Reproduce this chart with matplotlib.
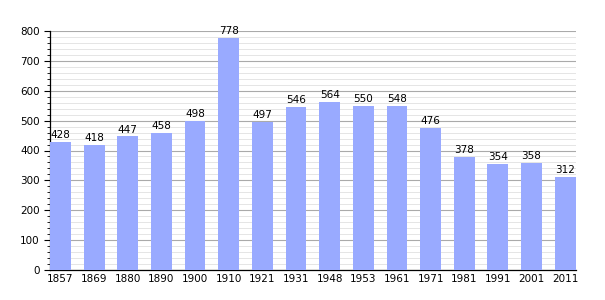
import numpy as np
import matplotlib.pyplot as plt
from matplotlib.ticker import MultipleLocator

years = ["1857", "1869", "1880", "1890", "1900", "1910", "1921", "1931",
         "1948", "1953", "1961", "1971", "1981", "1991", "2001", "2011"]
population = [428, 418, 447, 458, 498, 778, 497, 546,
              564, 550, 548, 476, 378, 354, 358, 312]

fig = plt.figure(figsize=(6.05, 3.0), dpi=100)
ax = fig.add_axes([50 / 605, 30 / 300, 526 / 605, 239 / 300])

x = np.arange(len(years))
ax.bar(x, population, width=0.62, color="#99aaff", zorder=3)

for xi, v in zip(x, population):
    ax.text(xi, v + 6, str(v), ha="center", va="bottom", fontsize=7.5, zorder=4)

ax.set_xlim(-0.31, 15.32)
ax.set_ylim(0, 800)
ax.set_xticks(x)
ax.set_xticklabels(years, fontsize=7.5)
ax.yaxis.set_major_locator(MultipleLocator(100))
ax.yaxis.set_minor_locator(MultipleLocator(20))
ax.tick_params(axis="y", labelsize=7.5, length=4, width=0.8)
ax.tick_params(axis="y", which="minor", length=2, width=0.6)
ax.tick_params(axis="x", length=0, pad=3)

ax.grid(axis="y", which="major", color="#aaaaaa", linewidth=0.8, zorder=0)
ax.grid(axis="y", which="minor", color="#e0e0e0", linewidth=0.6, zorder=0)

for s in ["top", "right"]:
    ax.spines[s].set_visible(False)
ax.spines["left"].set_linewidth(0.9)
ax.spines["bottom"].set_linewidth(0.9)

fig.savefig("out.png", dpi=100)
